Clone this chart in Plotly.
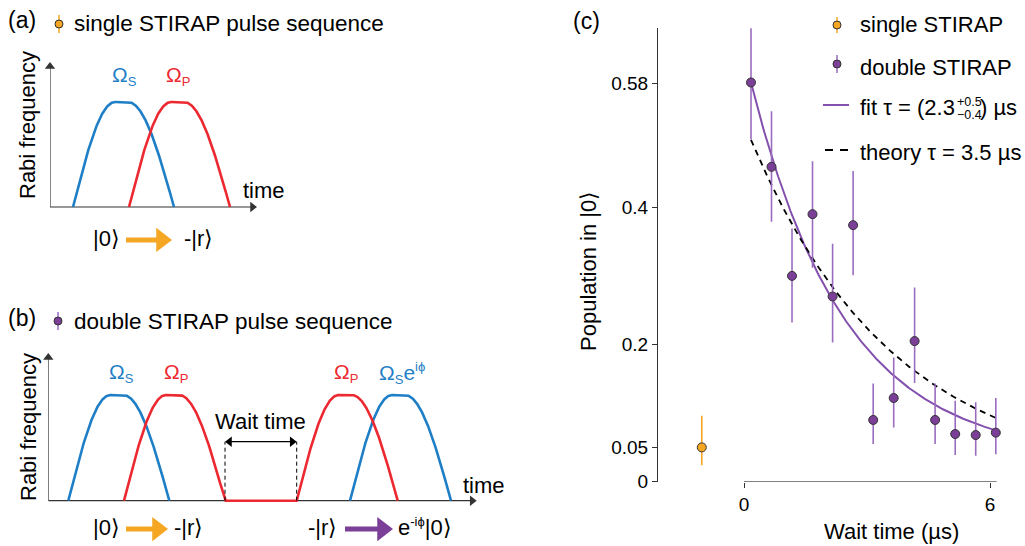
import numpy as np
import plotly.graph_objects as go

W, H = 1025, 546
FONT = "Liberation Sans, Arial, Helvetica, sans-serif"

# ---------------- panel (c) data ----------------
single_x = [-1.03]
single_y = [0.050]
single_hi = [0.096]
single_lo = [0.024]

double_x = [0.17, 0.67, 1.17, 1.67, 2.16, 2.66, 3.15, 3.65, 4.16, 4.66, 5.15, 5.65, 6.14]
double_y = [0.582, 0.459, 0.300, 0.390, 0.270, 0.374, 0.090, 0.122, 0.205, 0.090, 0.0695, 0.068, 0.0715]
double_hi = [0.661, 0.540, 0.369, 0.467, 0.347, 0.453, 0.143, 0.181, 0.283, 0.143, 0.118, 0.116, 0.122]
double_lo = [0.499, 0.379, 0.232, 0.312, 0.203, 0.301, 0.055, 0.079, 0.144, 0.055, 0.039, 0.038, 0.040]

fit_tau, fit_amp, fit_off = 2.3, 0.590, 0.034
theory_tau, theory_amp, theory_off = 3.5, 0.520, 0.003

y_ticks = [0, 0.05, 0.2, 0.4, 0.58]
y_ticklabels = ["0", "0.05", "0.2", "0.4", "0.58"]
x_ticks = [0, 6]
x_ticklabels = ["0", "6"]

# ---------------- schematic pulse parameters (a), (b) ----------------
pulse_rise, pulse_flat, pulse_fall = 4.2, 1.3, 4.6
a_stokes_starts = [2.3]
a_pump_starts = [7.9]
b_stokes_starts = [2.0, 30.17]
b_pump_starts = [7.57, 24.84]

BLUE = "#1f7fc6"
RED = "#ec2830"
ORANGE = "#f5a623"
PURPLE = "#7b3f98"
PURPLE_LINE = "#8450ad"
PURPLE_ERR = "#9a6cc0"
AX = "#333333"

# schematic axes: time axis 0..xr spans x0..x1 px, rabi axis 0..yr spans ybot..ytop px,
# the plotting area extends down to ylow px (room for the process arrows)
SCHEM = {
    "a": dict(xa="x2", ya="y2", xr=20.7, yr=1.381, x0=50, x1=257, ybot=207, ytop=62, ylow=262),
    "b": dict(xa="x3", ya="y3", xr=42.84, yr=1.397, x0=48.3, x1=476.7, ybot=500.7, ytop=353, ylow=545),
}


def PX(x):
    return x / W


def PY(y):
    return 1 - y / H


def envelope(t, starts):
    out = np.zeros_like(t)
    for s in starts:
        r_end = s + pulse_rise
        f_start = r_end + pulse_flat
        f_end = f_start + pulse_fall
        v = np.where((t >= s) & (t < r_end), np.sin(np.pi / 2 * (t - s) / pulse_rise), 0.0)
        v = np.where((t >= r_end) & (t <= f_start), 1.0, v)
        v = np.where((t > f_start) & (t <= f_end), np.cos(np.pi / 2 * (t - f_start) / pulse_fall), v)
        out = np.maximum(out, v)
    return out


def pulse_total():
    return pulse_rise + pulse_flat + pulse_fall


def segment(starts, continuous=False):
    xs, ys = [], []
    if continuous:
        t = np.linspace(starts[0], starts[-1] + pulse_total(), 800)
        return list(t), list(envelope(t, starts))
    for s in starts:
        t = np.linspace(s, s + pulse_total(), 300)
        xs += list(t) + [None]
        ys += list(envelope(t, [s])) + [None]
    return xs, ys


fig = go.Figure()


def px_per_unit(p):
    c = SCHEM[p]
    return (c["x1"] - c["x0"]) / c["xr"], (c["ybot"] - c["ytop"]) / c["yr"]


def arrow(p, xs, ys, color, width, head, both=False):
    """Arrow on a schematic axis from (xs[0],ys[0]) to tip (xs[1],ys[1])."""
    c = SCHEM[p]
    kx, ky = px_per_unit(p)
    (xa, xb), (ya, yb) = xs, ys
    if ya == yb:
        sym_end, sym_start = ("triangle-right", "triangle-left") if xb > xa else ("triangle-left", "triangle-right")
        d = np.sign(xb - xa) * head / 2 / kx
        xb2, xa2, yb2, ya2 = xb - d, (xa + d if both else xa), yb, ya
    else:
        sym_end, sym_start = ("triangle-up", "triangle-down") if yb > ya else ("triangle-down", "triangle-up")
        d = np.sign(yb - ya) * head / 2 / ky
        xb2, xa2, yb2, ya2 = xb, xa, yb - d, (ya + d if both else ya)
    fig.add_trace(go.Scatter(
        x=[xa2, xb2], y=[ya2, yb2], mode="lines+markers", xaxis=c["xa"], yaxis=c["ya"],
        line=dict(color=color, width=width),
        marker=dict(symbol=[sym_start, sym_end], size=[head if both else 0, head], color=color,
                    line=dict(width=0), opacity=1),
        showlegend=False, cliponaxis=False, hoverinfo="skip"))


# ---- schematic axes with arrows ----
for p in ["a", "b"]:
    c = SCHEM[p]
    arrow(p, [0, c["xr"]], [0, 0], AX, 1.2, 9)
    arrow(p, [0, 0], [0, c["yr"]], AX, 1.2, 9)

# ---- panel (a) pulses ----
for starts, col in [(a_stokes_starts, BLUE), (a_pump_starts, RED)]:
    xs, ys = segment(starts)
    fig.add_trace(go.Scatter(x=xs, y=ys, mode="lines", line=dict(color=col, width=2.6),
                             xaxis="x2", yaxis="y2", showlegend=False, cliponaxis=False,
                             hoverinfo="skip"))
# ---- panel (b) pulses ----
xs, ys = segment(b_stokes_starts)
fig.add_trace(go.Scatter(x=xs, y=ys, mode="lines", line=dict(color=BLUE, width=2.6),
                         xaxis="x3", yaxis="y3", showlegend=False, cliponaxis=False, hoverinfo="skip"))
xs, ys = segment(b_pump_starts, continuous=True)
fig.add_trace(go.Scatter(x=xs, y=ys, mode="lines", line=dict(color=RED, width=2.6),
                         xaxis="x3", yaxis="y3", showlegend=False, cliponaxis=False, hoverinfo="skip"))

# process arrows under the schematics
arrow("a", [7.6, 12.2], [-0.314, -0.314], ORANGE, 5, 21)
arrow("b", [7.77, 11.97], [-0.268, -0.268], ORANGE, 5, 21)
arrow("b", [29.67, 34.47], [-0.268, -0.268], PURPLE, 5, 21)

# wait time marker
wait_start = b_pump_starts[0] + pulse_total()
wait_end = b_pump_starts[1]
wait_level = 0.558
arrow("b", [wait_start, wait_end], [wait_level, wait_level], "black", 1.3, 9, both=True)

# ---- panel (c) ----
t_fit = np.linspace(double_x[0], double_x[-1], 200)
fig.add_trace(go.Scatter(x=t_fit, y=fit_amp * np.exp(-t_fit / fit_tau) + fit_off, mode="lines",
                         line=dict(color=PURPLE_LINE, width=2), name="fit", showlegend=False,
                         cliponaxis=False))
fig.add_trace(go.Scatter(x=t_fit, y=theory_amp * np.exp(-t_fit / theory_tau) + theory_off, mode="lines",
                         line=dict(color="black", width=1.8, dash="6px,5px"), name="theory",
                         showlegend=False, cliponaxis=False))
fig.add_trace(go.Scatter(
    x=single_x, y=single_y, mode="markers", name="single STIRAP", showlegend=False,
    marker=dict(color=ORANGE, size=9, line=dict(color=AX, width=1)),
    error_y=dict(type="data", symmetric=False,
                 array=[h - y for h, y in zip(single_hi, single_y)],
                 arrayminus=[y - l for l, y in zip(single_lo, single_y)],
                 color=ORANGE, thickness=1.6, width=0),
    cliponaxis=False))
fig.add_trace(go.Scatter(
    x=double_x, y=double_y, mode="markers", name="double STIRAP", showlegend=False,
    marker=dict(color=PURPLE, size=9, line=dict(color=AX, width=1)),
    error_y=dict(type="data", symmetric=False,
                 array=[h - y for h, y in zip(double_hi, double_y)],
                 arrayminus=[y - l for l, y in zip(double_lo, double_y)],
                 color=PURPLE_ERR, thickness=1.6, width=0),
    cliponaxis=False))

ann = []


def txt(x, y, s, size=22, color="black", xanchor="left", yanchor="middle", angle=0, **kw):
    d = dict(x=PX(x), y=PY(y), xref="paper", yref="paper", text=s, showarrow=False,
             font=dict(family=FONT, size=size, color=color), xanchor=xanchor, yanchor=yanchor,
             textangle=angle)
    d.update(kw)
    ann.append(d)


# headings
txt(6, 20, "(a)", size=23)
txt(72, 24, "single STIRAP pulse sequence", size=22.5)
txt(6, 318, "(b)", size=23)
txt(72, 321, "double STIRAP pulse sequence", size=22.5)
txt(571, 21, "(c)", size=23)

# axis labels for schematics
txt(28, 125, "Rabi frequency", xanchor="center", angle=-90)
txt(28, 427, "Rabi frequency", xanchor="center", angle=-90)
txt(241, 190, "time")
txt(461, 486, "time")

SUB = '<sub><span style="font-size:13px">%s</span></sub>'
txt(110, 76, "Ω" + SUB % "S", size=21, color=BLUE)
txt(164, 76, "Ω" + SUB % "P", size=21, color=RED)
txt(107, 373, "Ω" + SUB % "S", size=21, color=BLUE)
txt(162, 373, "Ω" + SUB % "P", size=21, color=RED)
txt(332, 373, "Ω" + SUB % "P", size=21, color=RED)
txt(377, 373, "Ω" + SUB % "S" + 'e<sup><span style="font-size:13px">iϕ</span></sup>', size=21, color=BLUE)

# kets
txt(91, 238, "|0⟩")
txt(182, 238, "-|r⟩")
txt(91, 527, "|0⟩")
txt(172, 527, "-|r⟩")
txt(306, 527, "-|r⟩")
txt(396, 527, 'e<sup><span style="font-size:13px">-iϕ</span></sup>|0⟩')

ann.append(dict(x=(wait_start + wait_end) / 2, y=0.75, xref="x3", yref="y3", text="Wait time",
                showarrow=False, font=dict(family=FONT, size=22, color="black"),
                xanchor="center", yanchor="middle"))

# panel (c) axis titles
txt(891, 531, "Wait time (µs)", xanchor="center")
txt(588, 271, "Population in |0⟩", xanchor="center", angle=-90)

# panel (c) legend texts
txt(858, 25, "single STIRAP")
txt(858, 67, "double STIRAP")
txt(858, 108, "fit τ = (2.3")
txt(955, 102, "+0.5", size=12.5)
txt(955, 115, "−0.4", size=12.5)
txt(978, 108, ") µs")
txt(858, 152, "theory τ = 3.5 µs")

shapes = []
for xv in [wait_start, wait_end]:
    shapes.append(dict(type="line", xref="x3", yref="y3", x0=xv, x1=xv, y0=0, y1=wait_level,
                       line=dict(color="black", width=1, dash="4px,3px")))
# x axis spine of panel (c): from 0 to last data point
shapes.append(dict(type="line", xref="x", yref="y", x0=0, x1=double_x[-1] + 0.02, y0=0, y1=0,
                   line=dict(color=AX, width=1)))


def glyph(cx, cy, col, ecol, half=8):
    shapes.append(dict(type="line", xref="paper", yref="paper", x0=PX(cx), x1=PX(cx),
                       y0=PY(cy - half), y1=PY(cy + half), line=dict(color=ecol, width=1.5)))
    shapes.append(dict(type="circle", xref="paper", yref="paper", x0=PX(cx - 4), x1=PX(cx + 4),
                       y0=PY(cy + 4), y1=PY(cy - 4), fillcolor=col, line=dict(color=AX, width=1)))


# glyphs beside headings (a), (b) and legend of (c)
glyph(59, 24, ORANGE, ORANGE, 9)
glyph(58, 321, PURPLE, PURPLE_ERR, 9)
glyph(837, 25, ORANGE, ORANGE, 8)
glyph(837, 64, PURPLE, PURPLE_ERR, 9)
shapes.append(dict(type="line", xref="paper", yref="paper", x0=PX(823), x1=PX(849),
                   y0=PY(105), y1=PY(105), line=dict(color=PURPLE_LINE, width=2)))
shapes.append(dict(type="line", xref="paper", yref="paper", x0=PX(825), x1=PX(849),
                   y0=PY(150), y1=PY(150), line=dict(color="black", width=2, dash="8px,7px")))

schem_axes = {}
for p in ["a", "b"]:
    c = SCHEM[p]
    ky = (c["ybot"] - c["ytop"]) / c["yr"]
    schem_axes["xaxis" + c["xa"][1:]] = dict(domain=[PX(c["x0"]), PX(c["x1"])], range=[0, c["xr"]],
                                             visible=False, anchor=c["ya"])
    schem_axes["yaxis" + c["ya"][1:]] = dict(domain=[PY(c["ylow"]), PY(c["ytop"])],
                                             range=[-(c["ylow"] - c["ybot"]) / ky, c["yr"]],
                                             visible=False, anchor=c["xa"])

fig.update_layout(
    width=W, height=H, margin=dict(l=0, r=0, t=0, b=0, autoexpand=False),
    paper_bgcolor="white", plot_bgcolor="rgba(0,0,0,0)",
    font=dict(family=FONT, size=19, color="black"),
    xaxis=dict(domain=[PX(658), PX(1020)], range=[-2.098, 6.73], tickvals=x_ticks, ticktext=x_ticklabels,
               ticks="outside", ticklen=5, tickwidth=1, tickcolor=AX, showline=False, showgrid=False,
               zeroline=False, tickfont=dict(size=19), anchor="y", automargin=False),
    yaxis=dict(domain=[PY(481.7), PY(28)], range=[0, 0.6614], tickvals=y_ticks, ticktext=y_ticklabels,
               ticks="outside", ticklen=5, tickwidth=1, tickcolor=AX, showline=True, linecolor=AX,
               linewidth=1, showgrid=False, zeroline=False, tickfont=dict(size=19), anchor="x",
               automargin=False),
    annotations=ann, shapes=shapes, showlegend=False, hovermode=False,
    **schem_axes,
)

fig.write_html("out.html", config={"displayModeBar": False},
               post_script="document.body.style.margin='0px';document.body.style.overflow='hidden';")
